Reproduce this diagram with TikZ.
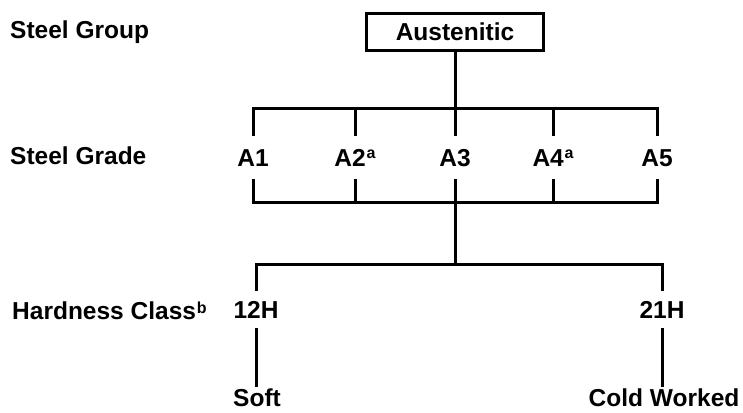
\documentclass[tikz,border=0pt]{standalone}
\usepackage{fontspec}
\setmainfont{Liberation Sans}
\newcommand\supletter[2]{\kern0.8pt\raisebox{#1}{\fontsize{16}{16}\selectfont #2}}
\begin{document}
\begin{tikzpicture}[x=1pt,y=-1pt,
  txt/.style={font=\bfseries\fontsize{24.5}{28}\selectfont, text height=17.5pt, text depth=0pt, inner xsep=0pt},
  rowlabel/.style={txt, anchor=west, inner ysep=0pt},
  grade/.style={txt, inner ysep=13.7pt},
  hclass/.style={txt, inner ysep=10.7pt},
  leaf/.style={txt, text height=20.5pt, inner ysep=0pt, anchor=base},
  topbox/.style={txt, draw, line width=3pt, minimum width=177pt, minimum height=37pt, inner ysep=0pt},
  wire/.style={line width=3pt, line cap=rect}]
\useasboundingbox (0,0) rectangle (743,412);

% row captions
\node[rowlabel] (cgroup) at (10,30) {Steel Group};
\node[rowlabel] (cgrade) at (10,156) {Steel Grade};
\node[rowlabel] (chard)  at (12,311) {Hardness Class\supletter{6pt}{b}};

% steel group
\node[topbox] (aus) at (455,32) {Austenitic};

% steel grades
\node[grade] (a1) at (253,157.5) {A1};
\node[grade] (a2) at (355,157.5) {A2\supletter{8pt}{a}};
\node[grade] (a3) at (455,157.5) {A3};
\node[grade] (a4) at (553,157.5) {A4\supletter{8pt}{a}};
\node[grade] (a5) at (657,157.5) {A5};

% hardness classes and conditions
\node[hclass] (h12) at (256,309.5) {12H};
\node[hclass] (h21) at (662,309.5) {21H};
\node[leaf] (soft) at (257,406) {Soft};
\node[leaf] (cold) at (664,406) {Cold Worked};

% bus points
\coordinate (t1) at (253,108);
\coordinate (t3) at (455,108);
\coordinate (t5) at (657,108);
\coordinate (u1) at (253,202);
\coordinate (u3) at (455,202);
\coordinate (u5) at (657,202);
\coordinate (l1) at (256,264);
\coordinate (l3) at (455,264);
\coordinate (l2) at (662,264);

% group to grades
\draw[wire] (aus.south) -- (t3);
\draw[wire] (t1) -- (t5);
\foreach \g in {a1,a2,a3,a4,a5} {
  \draw[wire] (\g.north) -- (\g.north |- t1);
  \draw[wire] (\g.south) -- (\g.south |- u1);
}
\draw[wire] (u1) -- (u5);

% grades to hardness classes
\draw[wire] (u3) -- (l3);
\draw[wire] (l1) -- (l2);
\draw[wire] (l1) -- (h12.north);
\draw[wire] (l2) -- (h21.north);
\draw[wire] (h12.south) -- (h12.south |- soft.north);
\draw[wire] (h21.south) -- (h21.south |- soft.north);
\end{tikzpicture}
\end{document}
